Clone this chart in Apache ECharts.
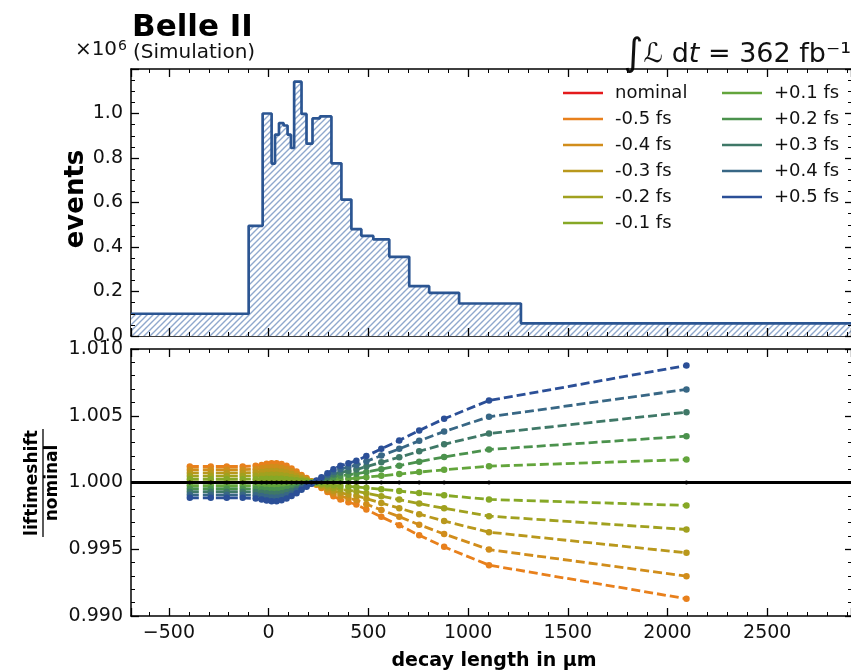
<!DOCTYPE html>
<html><head><meta charset="utf-8">
<script src="https://cdn.jsdelivr.net/npm/echarts@6/dist/echarts.min.js"></script>
<style>html,body{margin:0;padding:0;background:#fff}#c{width:851px;height:672px}</style>
</head><body><div id="c"></div>
<script>
// ---------- data ----------
const histEdges = [-690,-100,-30,15,32,52,75,95,112,128,165,190,220,257,315,365,415,465,525,605,705,805,955,1265,2950];
const histCounts = [0.100,0.495,1.000,0.775,0.905,0.957,0.946,0.905,0.845,1.143,0.998,0.865,0.978,0.987,0.776,0.613,0.480,0.450,0.434,0.356,0.224,0.194,0.146,0.057]; // x10^6

const ratioX = [-395,-290,-210,-130,-65,-35,-10,15,40,65,90,115,140,165,190,215,240,265,295,325,360,400,440,490,565,655,755,880,1105,2095];

const seriesNames = ['nominal','-0.5 fs','-0.4 fs','-0.3 fs','-0.2 fs','-0.1 fs','+0.1 fs','+0.2 fs','+0.3 fs','+0.4 fs','+0.5 fs'];
const seriesColors = ['#000000','#e8801c','#d18d1b','#b9981c','#a1a11f','#86a826','#63a53c','#4b924d','#3f7867','#386785','#2b4f97'];

const rNominal = [1,1,1,1,1,1,1,1,1,1,1,1,1,1,1,1,1,1,1,1,1,1,1,1,1,1,1,1,1,1];
const rM05 = [1.0012,1.0012,1.0012,1.0012,1.00125,1.00132,1.0014,1.00145,1.00145,1.00138,1.00125,1.00105,1.00082,1.00057,1.00033,1.0001,0.99984,0.99958,0.99928,0.99897,0.99872,0.99852,0.99835,0.99798,0.99743,0.9968,0.99605,0.99518,0.99381,0.99129];
const rM04 = [1.00096,1.00096,1.00096,1.00096,1.001,1.00106,1.00112,1.00116,1.00116,1.0011,1.001,1.00084,1.00066,1.00046,1.00026,1.00008,0.99987,0.99966,0.99942,0.99918,0.99898,0.99882,0.99868,0.99838,0.99794,0.99744,0.99684,0.99614,0.99498,0.99298];
const rM03 = [1.00072,1.00072,1.00072,1.00072,1.00075,1.00079,1.00084,1.00087,1.00087,1.00083,1.00075,1.00063,1.00049,1.00034,1.0002,1.00006,0.9999,0.99975,0.99957,0.99938,0.99923,0.99911,0.99901,0.99879,0.99846,0.99808,0.99763,0.99711,0.99628,0.99473];
const rM02 = [1.00048,1.00048,1.00048,1.00048,1.0005,1.00053,1.00056,1.00058,1.00058,1.00055,1.0005,1.00042,1.00033,1.00023,1.00013,1.00004,0.99994,0.99983,0.99971,0.99959,0.99949,0.99941,0.99934,0.99919,0.99897,0.99872,0.99842,0.99807,0.99748,0.99648];
const rM01 = [1.00024,1.00024,1.00024,1.00024,1.00025,1.00026,1.00028,1.00029,1.00029,1.00028,1.00025,1.00021,1.00016,1.00011,1.00007,1.00002,0.99997,0.99992,0.99986,0.99979,0.99974,0.9997,0.99967,0.9996,0.99949,0.99936,0.99921,0.99904,0.99873,0.99828];
const rP01 = [0.99977,0.99977,0.99977,0.99977,0.99976,0.99974,0.99973,0.99972,0.99972,0.99973,0.99976,0.9998,0.99984,0.99989,0.99994,0.99998,1.00003,1.00008,1.00014,1.0002,1.00025,1.00029,1.00032,1.0004,1.0005,1.00063,1.00078,1.00095,1.00122,1.00172];
const rP02 = [0.99954,0.99954,0.99954,0.99954,0.99952,0.99949,0.99946,0.99944,0.99944,0.99947,0.99952,0.99959,0.99968,0.99978,0.99987,0.99996,1.00006,1.00016,1.00028,1.0004,1.0005,1.00058,1.00065,1.00079,1.001,1.00126,1.00156,1.00191,1.00247,1.00347];
const rP03 = [0.99931,0.99931,0.99931,0.99931,0.99928,0.99923,0.99919,0.99916,0.99916,0.9992,0.99928,0.99939,0.99952,0.99967,0.99981,0.99994,1.00009,1.00024,1.00042,1.0006,1.00075,1.00087,1.00097,1.00119,1.00151,1.00189,1.00234,1.00286,1.00367,1.00527];
const rP04 = [0.99908,0.99908,0.99908,0.99908,0.99904,0.99898,0.99892,0.99888,0.99888,0.99894,0.99904,0.99918,0.99936,0.99956,0.99974,0.99992,1.00012,1.00032,1.00056,1.0008,1.001,1.00116,1.0013,1.00158,1.00202,1.00252,1.00312,1.00382,1.00492,1.00697];
const rP05 = [0.99885,0.99885,0.99885,0.99885,0.9988,0.99872,0.99865,0.9986,0.9986,0.99867,0.9988,0.99898,0.9992,0.99945,0.99968,0.9999,1.00015,1.0004,1.0007,1.001,1.00125,1.00145,1.00162,1.00198,1.00252,1.00315,1.0039,1.00477,1.00614,1.00876];
const ratioValues = [rNominal,rM05,rM04,rM03,rM02,rM01,rP01,rP02,rP03,rP04,rP05];

const xMin = -690, xMax = 2920;

// ---------- chart ----------
const FONT = 'DejaVu Sans';
const chart = echarts.init(document.getElementById('c'), null, {renderer:'canvas'});

const pat = document.createElement('canvas'); pat.width = 6; pat.height = 6;
(function(){const g = pat.getContext('2d'); g.fillStyle='#ffffff'; g.fillRect(0,0,6,6);
 g.strokeStyle='#8fa8cd'; g.lineWidth=1.4; g.beginPath();
 g.moveTo(0,6); g.lineTo(6,0); g.moveTo(-1,1); g.lineTo(1,-1); g.moveTo(5,7); g.lineTo(7,5); g.stroke();})();

// axis index bookkeeping
const X_DUMMY0 = 13, X_DUMMY1 = 14, Y_LINE0 = 0, Y_DUMMY0 = 4;

function lineX(grid, pos){
  return {type:'value', gridIndex:grid, position:pos, min:xMin, max:xMax, splitNumber:7,
    axisLine:{show:true, onZero:false, lineStyle:{color:'#000', width:1.5}},
    axisTick:{show:false}, axisLabel:{show:false}, splitLine:{show:false}};
}
function lineY(grid, min, max, interval){
  return {type:'value', gridIndex:grid, position:'left', min:min, max:max, interval:interval,
    axisLine:{show:true, onZero:false, lineStyle:{color:'#000', width:1.5}},
    axisTick:{show:false}, axisLabel:{show:false}, splitLine:{show:false}};
}
function tickX(grid, pos, major, zeroRef){
  const al = {show:false};
  if (zeroRef != null) al.onZeroAxisIndex = zeroRef;
  return {type:'value', gridIndex:grid, position:pos, min:xMin, max:xMax, splitNumber: major ? 7 : 36, z:10,
    axisLine:al,
    axisTick:{show:true, inside:true, length: major?8:4, lineStyle:{color:'#000', width: major?1.3:1}},
    axisLabel:{show:false}, splitLine:{show:false}};
}
function tickYLeft(grid, min, max, interval, minorSplit, zeroRef){
  return {type:'value', gridIndex:grid, position:'left', min:min, max:max, interval:interval, z:10,
    axisLine:{show:false, onZeroAxisIndex:zeroRef},
    axisTick:{show:true, inside:true, length:8, lineStyle:{color:'#000', width:1.3}},
    minorTick:{show:true, splitNumber:minorSplit, length:4, lineStyle:{color:'#000', width:1}},
    axisLabel:{show:false}, splitLine:{show:false}};
}
function tickYRight(grid, min, max, interval, minorSplit){
  return {type:'value', gridIndex:grid, position:'right', min:min, max:max, interval:interval, z:10,
    axisLine:{show:false, onZero:false},
    axisTick:{show:true, inside:true, length:6, lineStyle:{color:'#000', width:1.3}},
    minorTick:{show:true, splitNumber:minorSplit, length:3, lineStyle:{color:'#000', width:1}},
    axisLabel:{show:false}, splitLine:{show:false}};
}
function labelX(grid){
  return {type:'value', gridIndex:grid, position:'bottom', min:xMin, max:xMax, splitNumber:7,
    axisLine:{show:false, onZero:false}, axisTick:{show:false},
    axisLabel:{show:true, color:'#111', fontFamily:FONT, fontSize:19, margin:8, showMinLabel:false, showMaxLabel:false,
      formatter: v => (Math.abs(v % 500) < 1e-6) ? (v<0 ? '\u2212'+Math.abs(v) : String(v)) : ''},
    splitLine:{show:false}};
}
function labelY(grid, min, max, interval, digits){
  return {type:'value', gridIndex:grid, position:'left', min:min, max:max, interval:interval,
    axisLine:{show:false, onZero:false}, axisTick:{show:false},
    axisLabel:{show:true, color:'#111', fontFamily:FONT, fontSize:19, margin:8, showMaxLabel: digits===3,
      formatter: v => v.toFixed(digits)},
    splitLine:{show:false}};
}
function dummyX(grid){ return {type:'value', gridIndex:grid, show:false, min:0, max:1, axisLine:{onZero:false}}; }
const dummyY0 = {type:'value', gridIndex:0, show:false, min:-1, max:0, axisLine:{onZero:false}};

const histData = histEdges.map((e,i) => [e, i < histCounts.length ? histCounts[i] : histCounts[histCounts.length-1]]);

const series = [{
  type:'line', name:'hist', xAxisIndex:1, yAxisIndex:3, step:'end', symbol:'none',
  data: histData, lineStyle:{color:'#2b5592', width:2.7},
  areaStyle:{color:{image:pat, repeat:'repeat'}, opacity:1}, z:3
}];
seriesNames.forEach((n,k) => {
  const s = {type:'line', name:n, xAxisIndex:7, yAxisIndex:8,
    data: ratioX.map((x,i) => [x, ratioValues[k][i]]),
    symbol:'circle', symbolSize: k===0 ? 4 : 6.5, showSymbol:true,
    itemStyle:{color:seriesColors[k]},
    lineStyle:{color:seriesColors[k], width:2.8, type:[9,4]}, z: k===0 ? 20 : 5};
  if (k===0) {
    s.markLine = {silent:true, symbol:['none','none'], label:{show:false},
      lineStyle:{color:'#000', width:3, type:'solid'}, data:[{yAxis:1}], z:19};
  }
  series.push(s);
});

const legendText = {fontFamily:FONT, fontSize:18, color:'#111', lineHeight:18, padding:[0,0,0,7]};
const option = {
  animation:false,
  backgroundColor:'#fff',
  grid:[{left:131, top:69, right:0, height:267}, {left:131, top:349, right:0, height:267}],
  xAxis:[lineX(0,'bottom'), tickX(0,'bottom',true,Y_LINE0), tickX(0,'bottom',false,Y_LINE0),
         lineX(0,'top'), tickX(0,'top',true,Y_DUMMY0), tickX(0,'top',false,Y_DUMMY0),
         lineX(1,'bottom'), tickX(1,'bottom',true), tickX(1,'bottom',false),
         lineX(1,'top'), tickX(1,'top',true), tickX(1,'top',false), labelX(1),
         dummyX(0), dummyX(1)],
  yAxis:[lineY(0,0,1.2,0.2), tickYLeft(0,0,1.2,0.2,4,X_DUMMY0), tickYRight(0,0,1.2,0.2,4), labelY(0,0,1.2,0.2,1), dummyY0,
         lineY(1,0.99,1.01,0.005), tickYLeft(1,0.99,1.01,0.005,5,X_DUMMY1), tickYRight(1,0.99,1.01,0.005,5), labelY(1,0.99,1.01,0.005,3)],
  legend:[
    {orient:'vertical', left:558, top:79, icon:'rect', itemWidth:40, itemHeight:2.5, itemGap:8,
     textStyle:legendText, selectedMode:false,
     data:[{name:'nominal', itemStyle:{color:'#e41a1c'}}, '-0.5 fs','-0.4 fs','-0.3 fs','-0.2 fs','-0.1 fs']},
    {orient:'vertical', left:717, top:79, icon:'rect', itemWidth:40, itemHeight:2.5, itemGap:8,
     textStyle:legendText, selectedMode:false,
     data:['+0.1 fs','+0.2 fs','+0.3 fs','+0.4 fs','+0.5 fs']}
  ],
  graphic:[
    {type:'text', left:132, top:12, style:{text:'Belle II', font:'bold 31px "DejaVu Sans"', fill:'#000'}},
    {type:'text', left:133, top:43, style:{text:'(Simulation)', font:'20px "DejaVu Sans"', fill:'#111'}},
    {type:'text', x:127, y:61, style:{text:'\u00d710{s|6}', font:'20px "DejaVu Sans"', fill:'#111', textAlign:'right', textVerticalAlign:'bottom',
      rich:{s:{fontSize:14, fontFamily:FONT, verticalAlign:'top', padding:[0,0,8,1]}}}},
    {type:'text', x:851, y:55, style:{text:'{i|\u222b}\u2112 d{t|t} = 362 fb\u207b\u00b9', font:'27px "DejaVu Sans"', fill:'#111', textAlign:'right', textVerticalAlign:'middle',
      rich:{i:{fontSize:38, fontFamily:FONT}, t:{fontSize:27, fontFamily:FONT, fontStyle:'italic'}}}},
    {type:'text', x:76, y:199, rotation:Math.PI/2, style:{text:'events', font:'bold 26px "DejaVu Sans"', fill:'#000', textAlign:'center', textVerticalAlign:'middle'}},
    {type:'text', x:494, y:661, style:{text:'decay length in \u00b5m', font:'bold 19px "DejaVu Sans"', fill:'#000', textAlign:'center', textVerticalAlign:'middle'}},
    {type:'group', x:43, y:483, rotation:Math.PI/2, children:[
      {type:'text', x:0, y:-10, style:{text:'liftimeshift', font:'bold 17px "DejaVu Sans"', fill:'#000', textAlign:'center', textVerticalAlign:'middle'}},
      {type:'line', shape:{x1:-54, y1:0, x2:54, y2:0}, style:{stroke:'#000', lineWidth:1.3}},
      {type:'text', x:0, y:10, style:{text:'nominal', font:'bold 17px "DejaVu Sans"', fill:'#000', textAlign:'center', textVerticalAlign:'middle'}}
    ]}
  ],
  series: series
};
chart.setOption(option);
</script>
</body></html>
